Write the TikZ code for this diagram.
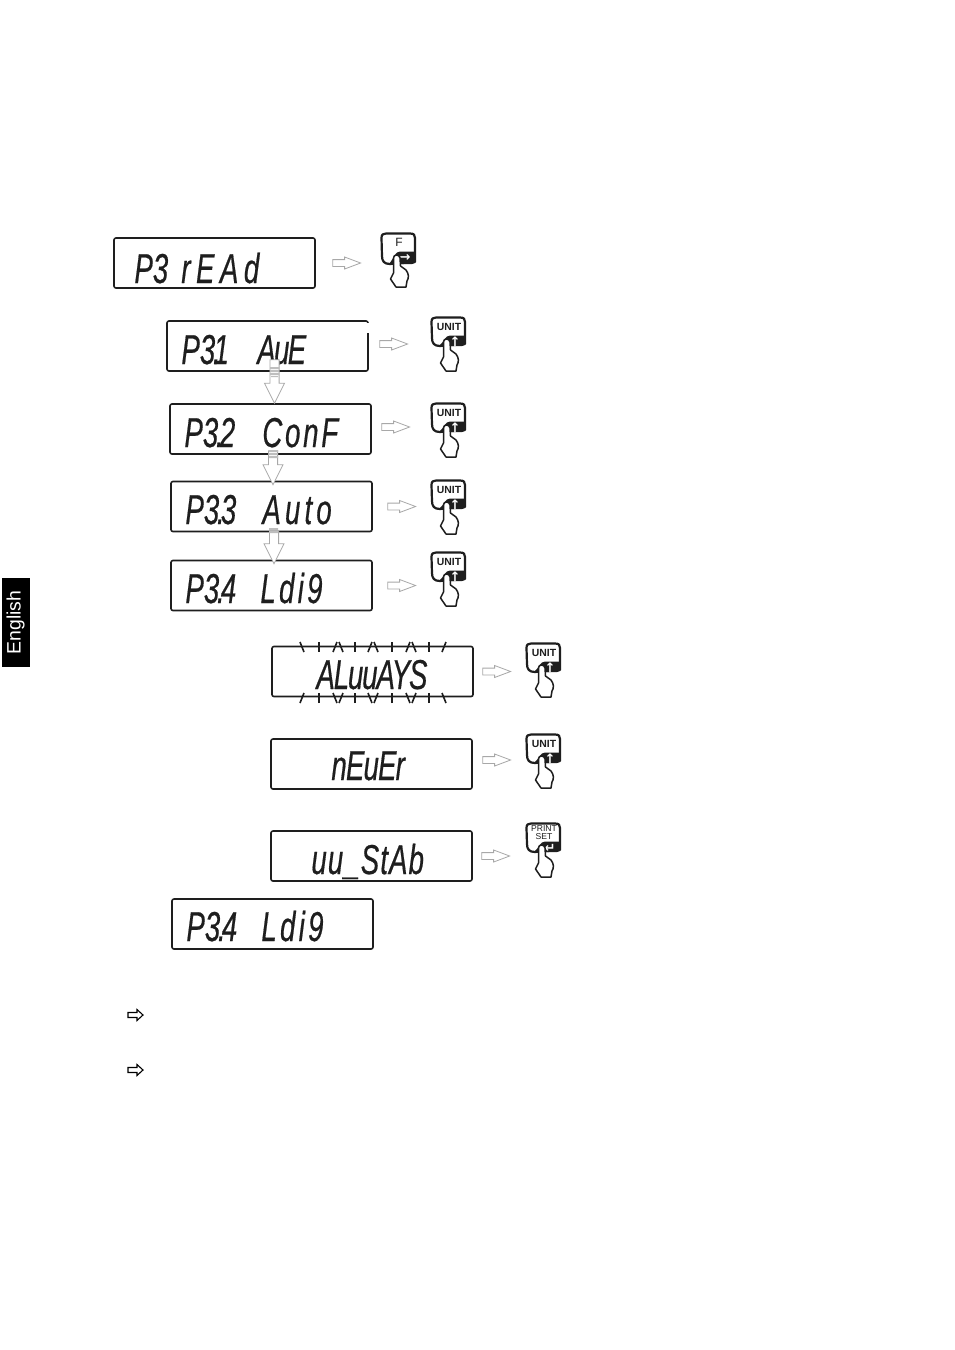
\documentclass[tikz,border=0pt]{standalone}
\usepackage{fontspec}
\setmainfont{Liberation Sans}
\newfontfamily\lcdfont[ItalicFont={Liberation Sans Italic},ItalicFeatures={FakeBold=0.6}]{Liberation Sans}
\newfontfamily\arrowfont{DejaVu Sans}
\usetikzlibrary{calc}
\definecolor{ink}{HTML}{1E1E1E}
\definecolor{flowgray}{HTML}{A8A8A8}
\newcommand\prs{\fontsize{4.3}{4.1}\selectfont}
\tikzset{
  x=0.5pt,y=-0.5pt,
  lcdbox/.style={draw=ink,line width=0.8pt,rounded corners=1pt,minimum width=100.5pt,minimum height=25pt,inner sep=0pt,fill=white},
  lcdtext/.style={anchor=base west,inner sep=0pt,xscale=1.15,yscale=1.74,transform shape,text=ink,font=\lcdfont\itshape\fontsize{12}{12}\selectfont},
  flowh/.style 2 args={line width=0.4pt,draw=flowgray,fill=white,to path={
    let \p1=(\tikztostart),\p2=(\tikztotarget) in
    ({\x1+#1*0.5pt},{\y1+1.7pt}) -- ({\x2-#2*0.5pt-8pt},{\y1+1.7pt}) -- ({\x2-#2*0.5pt-8pt},{\y1+3pt})
    -- ({\x2-#2*0.5pt},{\y1}) -- ({\x2-#2*0.5pt-8pt},{\y1-3pt}) -- ({\x2-#2*0.5pt-8pt},{\y1-1.7pt})
    -- ({\x1+#1*0.5pt},{\y1-1.7pt}) -- cycle}},
  flowv/.style 2 args={line width=0.4pt,draw=flowgray,fill=white,to path={
    let \p1=(\tikztostart),\p2=(\tikztotarget) in
    ({\x1+#1*0.5pt-2.3pt},{\y1-#2*0.5pt}) -- ({\x1+#1*0.5pt-2.3pt},{\y2+10pt}) -- ({\x1+#1*0.5pt-5pt},{\y2+10pt})
    -- ({\x1+#1*0.5pt},{\y2}) -- ({\x1+#1*0.5pt+5pt},{\y2+10pt}) -- ({\x1+#1*0.5pt+2.3pt},{\y2+10pt})
    -- ({\x1+#1*0.5pt+2.3pt},{\y1-#2*0.5pt}) -- cycle}},
  stripe/.style={fill=flowgray!75,draw=none},
  btnline/.style={draw=ink,line width=1.1pt,fill=white,line join=round},
  handline/.style={draw=ink,line width=0.75pt,fill=white,line join=round},
  flash/.style={draw=ink,line width=0.8pt},
  smallarrow/.style={draw=black,line width=0.55pt,fill=white},
}
\newcommand\ls[1]{\addfontfeature{LetterSpace=#1}}
\newcommand\dt{\kern-1pt.\kern-1.6pt}
\newcommand\dtone{\kern-1pt.\kern-3pt}
% name, x, y, bottom, label, arrow glyph
\newcommand\btn[6]{%
  \begin{scope}[shift={(#2,#3)}]
    \node[inner sep=0pt,minimum width=17pt,minimum height=14pt] (#1) at (17,14) {};
    \draw[btnline] (9,#4) .. controls (3,#4) and (1,{#4-3}) .. (1,{#4-8}) -- (0.5,5) .. controls (0.5,1.5) and (2,0.5) .. (5,0.5) -- (29,0.5) .. controls (33,0.5) and (34,2) .. (34,5) -- (34,{#4-2}) -- cycle;
    \fill[ink] (34,18.5) -- (19,18.5) .. controls (14,18.5) and (13,25) .. (8,#4) -- (31,#4) .. controls (33,#4) and (34,{#4-1}) .. (34,{#4-3}) -- cycle;
    \node[text=ink,inner sep=0pt,align=center,font=\prs] (#1l) at (18,9.5) {#5};
    \node[text=white,inner sep=0pt] (#1a) at (24,25) {\arrowfont\bfseries\fontsize{6.5}{6.5}\selectfont #6};
    \draw[handline] (12.5,40) -- (12.5,25) .. controls (12.5,21) and (18.5,21) .. (19,25) -- (19.5,33) -- (25,37) .. controls (28,41) and (28,45) .. (26,48) -- (25,54) -- (15,54) -- (9.5,46) -- cycle;
  \end{scope}}
\newcommand\smallarr[1]{\draw[smallarrow] (128,{#1-2.5}) -- (137,{#1-2.5}) -- (137,{#1-5.5}) -- (143,#1) -- (137,{#1+5.5}) -- (137,{#1+2.5}) -- (128,{#1+2.5}) -- cycle;}
\newcommand\unitlabel{\bfseries\fontsize{5.2}{5.2}\selectfont UNIT}
\begin{document}
\begin{tikzpicture}
\useasboundingbox (0,0) rectangle (954,1350);
\fill[white] (0,0) rectangle (954,1350);
% tab
\node[fill=black,inner sep=0pt,minimum width=14pt,minimum height=44.5pt] (tab) at (16,622.5) {};
\node[rotate=90,text=white,inner sep=0pt,font=\fontsize{9.7}{10}\selectfont] (tabt) at (15.5,622.5) {English};
% displays
\node[lcdbox] (dA) at (214.5,263) {};
\node[lcdbox] (dB) at (267.5,346) {};
\node[lcdbox] (dC) at (270.5,429) {};
\node[lcdbox] (dD) at (271.5,506.5) {};
\node[lcdbox] (dE) at (271.5,585.5) {};
\node[lcdbox] (dF) at (372.5,671.5) {};
\node[lcdbox] (dG) at (371.5,764) {};
\node[lcdbox] (dH) at (371.5,856) {};
\node[lcdbox] (dI) at (272.5,924) {};
\fill[white] (366,323) rectangle (370,333);
% display text
\node[lcdtext] (tA) at (134,283) {\makebox[20.4pt][l]{P3\ }{\ls{20}rEAd}};
\node[lcdtext] (tB) at (181,364) {\makebox[33pt][l]{P3\dtone 1\ }{\ls{-6}AuE}};
\node[lcdtext] (tC) at (184,447) {\makebox[33.9pt][l]{P3\dt 2\ }{\ls{10}ConF}};
\node[lcdtext] (tD) at (185,524) {\makebox[33.5pt][l]{P3\dt 3\ }{\ls{15}Auto}};
\node[lcdtext] (tE) at (185,603) {\makebox[32.6pt][l]{P3\dt 4\ }{\ls{12}Ldi9}};
\node[lcdtext] (tF) at (316,689) {\ls{-4}ALuuAYS};
\node[lcdtext] (tG) at (331,780) {\ls{-3}nEuEr};
\node[lcdtext] (tH) at (311,874) {\ls{4}uu\_StAb};
\node[lcdtext] (tI) at (186,941) {\makebox[32.6pt][l]{P3\dt 4\ }{\ls{12}Ldi9}};
% flashing marks
\foreach \x/\d in {303/-1,319/0,334/1,342/-1,355/0,369/1,377/-1,392/0,407/1,415/-1,429/0,443/1}{
  \draw[flash] ({\x+3*\d},642) -- ({\x-\d},652);
  \draw[flash] ({\x+3*\d},703) -- ({\x-\d},693);
}
% buttons
\btn{bA}{381}{233}{31}{\fontsize{6}{6}\selectfont F}{→}
\btn{bB}{431}{317}{29}{\unitlabel}{↑}
\btn{bC}{431}{403}{29}{\unitlabel}{↑}
\btn{bD}{431}{480}{29}{\unitlabel}{↑}
\btn{bE}{431}{552}{29}{\unitlabel}{↑}
\btn{bF}{526}{643}{29}{\unitlabel}{↑}
\btn{bG}{526}{734}{29}{\unitlabel}{↑}
\btn{bH}{526}{823}{29}{PRINT\\SET}{↵}
% horizontal arrows
\draw[flowh={17}{20}] (dA.east) to (bA.west);
\draw[flowh={11}{23}] ([yshift=1pt]dB.east) to (bB.west);
\draw[flowh={10}{21}] ([yshift=1pt]dC.east) to (bC.west);
\draw[flowh={15}{15}] (dD.east) to (bD.west);
\draw[flowh={15}{15}] (dE.east) to (bE.west);
\draw[flowh={9}{15}] (dF.east) to (bF.west);
\draw[flowh={10}{15}] ([yshift=2pt]dG.east) to (bG.west);
\draw[flowh={9}{16}] (dH.east) to (bH.west);
% vertical arrows
\draw[flowv={7}{-12}] (dB.south) to (dC.north);
\draw[flowv={2.5}{-4}] (dC.south) to ([yshift=-2pt]dD.north);
\draw[flowv={2.5}{-1}] (dD.south) to ([yshift=-2pt]dE.north);
\fill[stripe] (270,367) rectangle (279,369) (270,370) rectangle (279,372) (270,373) rectangle (279,375) (271,376) rectangle (278,377);
\fill[stripe] (269,450) rectangle (278,452) (269,453) rectangle (278,455) (269,456) rectangle (278,458);
\fill[stripe] (269,528) rectangle (278,530) (269,531) rectangle (278,533);
% bottom arrows
\smallarr{1015}
\smallarr{1070}
\end{tikzpicture}
\end{document}
